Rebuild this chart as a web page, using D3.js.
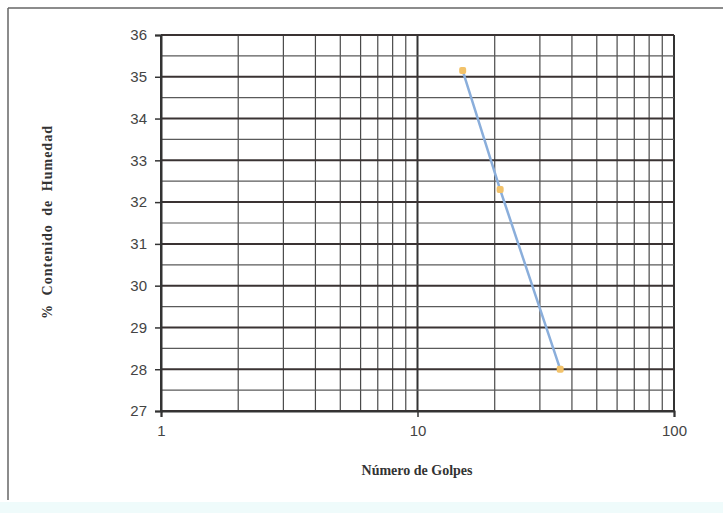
<!DOCTYPE html>
<html>
<head>
<meta charset="utf-8">
<script src="https://cdn.jsdelivr.net/npm/d3@7"></script>
<style>
  html, body { margin: 0; padding: 0; background: #fff; }
  svg { display: block; }
</style>
</head>
<body>
<svg id="chart" width="723" height="513"></svg>
<script>
// Ensayo de límite líquido: golpes vs. contenido de humedad
const golpes = [15, 21, 36];
const humedad = [35.15, 32.3, 28.0];
const xTickLabels = [1, 10, 100];
const yTickLabels = [27, 28, 29, 30, 31, 32, 33, 34, 35, 36];

const svg = d3.select("#chart");
const W = 723, H = 513;
const m = { left: 161, right: 674, top: 35, bottom: 411 };

// outer frame and faint bottom band
svg.append("rect").attr("x", 0).attr("y", 502).attr("width", W).attr("height", 11)
  .attr("fill", "#effbfb");
svg.append("line").attr("x1", 8).attr("x2", W).attr("y1", 8).attr("y2", 8)
  .attr("stroke", "#666").attr("stroke-width", 1.5);
svg.append("line").attr("x1", 8).attr("x2", 8).attr("y1", 8).attr("y2", 500)
  .attr("stroke", "#666").attr("stroke-width", 1.5);

const x = d3.scaleLog().domain([1, 100]).range([m.left, m.right]);
const y = d3.scaleLinear().domain([27, 36]).range([m.bottom, m.top]);

const grid = svg.append("g");
const isMajorX = d => d === 1 || d === 10 || d === 100;

// vertical grid: every integer within each decade
const xGrid = [];
for (let d = 1; d < 100; d *= 10) for (let k = 1; k <= 10; k++) xGrid.push(d * k);
const xGridUnique = Array.from(new Set(xGrid));
grid.selectAll("line.vx").data(xGridUnique).enter().append("line")
  .attr("x1", d => x(d)).attr("x2", d => x(d))
  .attr("y1", m.top).attr("y2", m.bottom)
  .attr("stroke", d => isMajorX(d) ? "#333" : "#4a4a4a")
  .attr("stroke-width", d => isMajorX(d) ? 2 : 1.2);

// horizontal grid: every half unit
const yGrid = d3.range(27, 36.01, 0.5);
grid.selectAll("line.hy").data(yGrid).enter().append("line")
  .attr("x1", m.left).attr("x2", m.right)
  .attr("y1", d => y(d)).attr("y2", d => y(d))
  .attr("stroke", d => Number.isInteger(d) ? "#3a3333" : "#5a5a5a")
  .attr("stroke-width", d => Number.isInteger(d) ? 2 : 1.2);

// axes
const yAxis = d3.axisLeft(y).tickValues(yTickLabels).tickSize(6).tickPadding(8)
  .tickFormat(d3.format("d"));
const gy = svg.append("g").attr("transform", `translate(${m.left},0)`).call(yAxis);
gy.select(".domain").attr("stroke", "#333").attr("stroke-width", 2);
gy.selectAll(".tick line").attr("stroke", "#333").attr("stroke-width", 1.5);
gy.selectAll("text").attr("font-family", "Liberation Sans, Arial, sans-serif")
  .attr("font-size", 15).attr("fill", "#444");

const xAxis = d3.axisBottom(x).tickValues(xTickLabels).tickSize(6).tickPadding(8)
  .tickFormat(d3.format("d"));
const gx = svg.append("g").attr("transform", `translate(0,${m.bottom})`).call(xAxis);
gx.select(".domain").attr("stroke", "#333").attr("stroke-width", 2);
gx.selectAll(".tick line").attr("stroke", "#333").attr("stroke-width", 1.5);
gx.selectAll("text").attr("font-family", "Liberation Sans, Arial, sans-serif")
  .attr("font-size", 15).attr("fill", "#444");

// series line and markers
const pts = golpes.map((g, i) => [g, humedad[i]]);
svg.append("path").datum(pts)
  .attr("d", d3.line().x(d => x(d[0])).y(d => y(d[1])))
  .attr("fill", "none").attr("stroke", "#8aaedb").attr("stroke-width", 2.5);
svg.selectAll("rect.pt").data(pts).enter().append("rect")
  .attr("x", d => x(d[0]) - 3.5).attr("y", d => y(d[1]) - 3.5)
  .attr("width", 7).attr("height", 7).attr("rx", 2)
  .attr("fill", "#f2c26a");

// axis titles
svg.append("text").attr("x", 417).attr("y", 475).attr("text-anchor", "middle")
  .attr("font-family", "Liberation Serif, Times New Roman, serif")
  .attr("font-weight", "bold").attr("font-size", 14).attr("fill", "#333")
  .text("Número de Golpes");
svg.append("text")
  .attr("transform", "translate(52,222) rotate(-90)")
  .attr("text-anchor", "middle")
  .attr("font-family", "Liberation Serif, Times New Roman, serif")
  .attr("font-weight", "bold").attr("font-size", 14).attr("fill", "#333")
  .attr("letter-spacing", 1).attr("word-spacing", 4)
  .text("% Contenido de Humedad");
</script>
</body>
</html>
